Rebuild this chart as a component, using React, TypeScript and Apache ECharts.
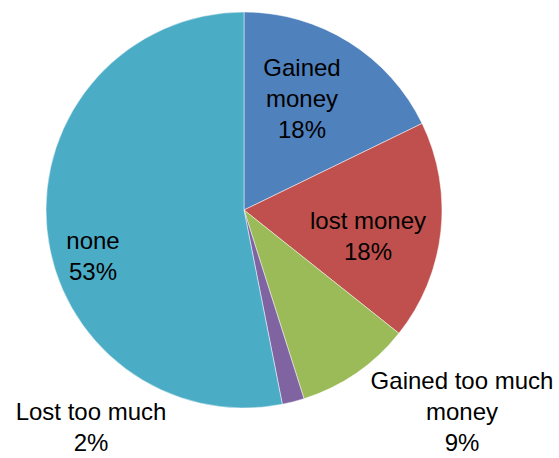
import React, { useEffect, useRef } from "react";
import * as echarts from "echarts";

const categories = ["Gained money", "lost money", "Gained too much money", "Lost too much", "none"];
const labelNames = ["Gained\nmoney", "lost money", "Gained too much\nmoney", "Lost too much", "none"];
const values = [17.8, 17.9, 9.4, 1.8, 53.1];
const colors = ["#4F81BD", "#C0504D", "#9BBB59", "#8064A2", "#4BACC6"];
// label block centres (px)
const labelPos: [number, number][] = [
  [302, 98],
  [368, 236],
  [462, 411],
  [91, 427],
  [93, 256],
];

export default function App() {
  const ref = useRef<HTMLDivElement>(null);
  useEffect(() => {
    document.body.style.margin = "0";
    const chart = echarts.init(ref.current!, undefined, { renderer: "svg" });
    chart.setOption({
      animation: false,
      backgroundColor: "#fff",
      series: [
        {
          type: "pie",
          center: [244, 210],
          radius: [0, 198],
          startAngle: 90,
          clockwise: true,
          percentPrecision: 0,
          itemStyle: { borderColor: "rgba(255,255,255,0.8)", borderWidth: 0.6 },
          label: {
            show: true,
            position: "inside",
            color: "#000",
            fontFamily: "Liberation Sans, Arial, sans-serif",
            fontSize: 24,
            lineHeight: 31,
            align: "center",
            formatter: (p: any) => `${labelNames[p.dataIndex]}\n${p.percent}%`,
          },
          labelLine: { show: false },
          labelLayout: (p: any) => ({
            x: labelPos[p.dataIndex][0],
            y: labelPos[p.dataIndex][1],
            align: "center",
            verticalAlign: "middle",
          }),
          emphasis: { disabled: true },
          data: categories.map((c, i) => ({
            name: c,
            value: values[i],
            itemStyle: { color: colors[i] },
          })),
        },
      ],
    });
    return () => chart.dispose();
  }, []);
  return <div ref={ref} style={{ width: 559, height: 458 }} />;
}
